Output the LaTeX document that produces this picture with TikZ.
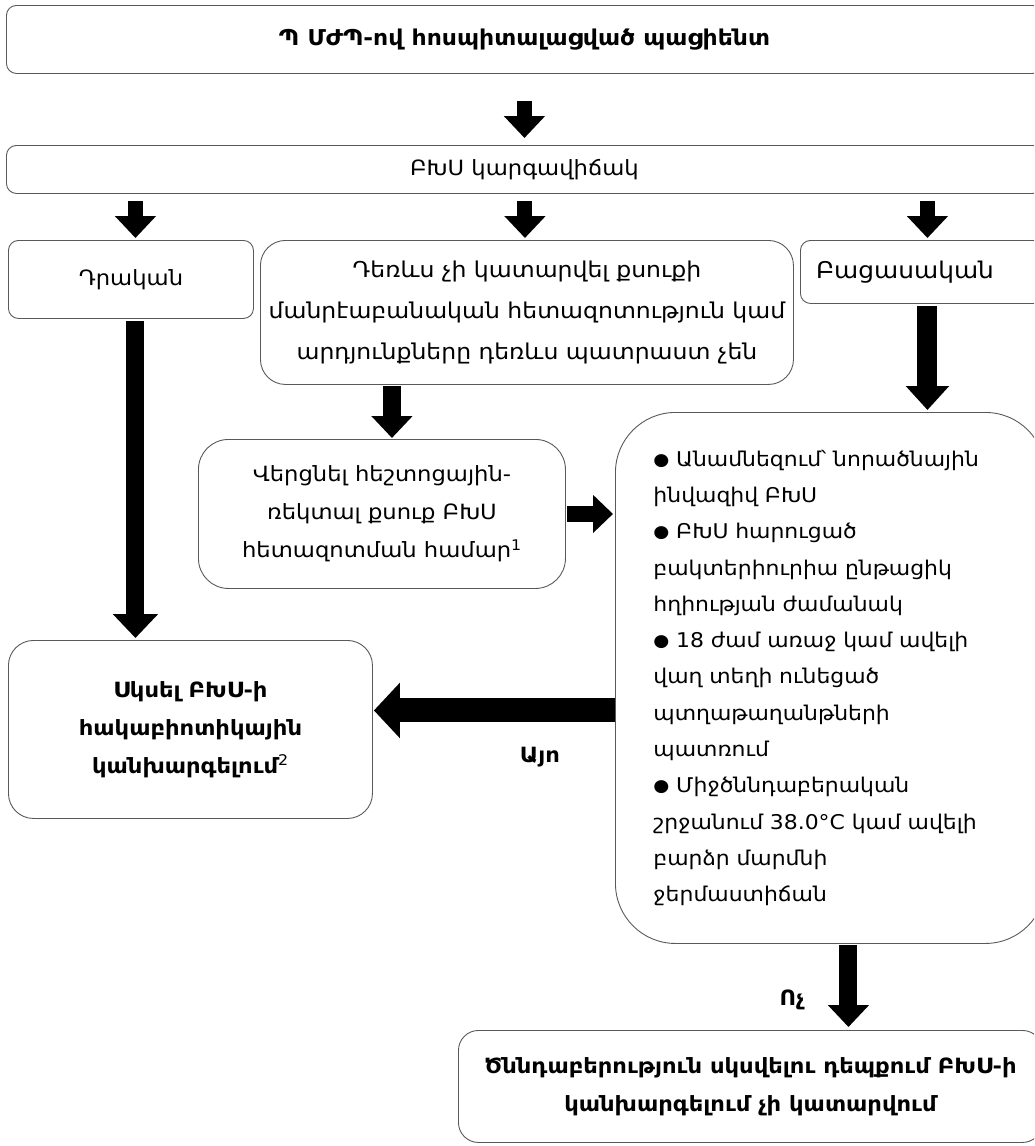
\documentclass[tikz,border=0pt]{standalone}
\usepackage{fontspec}
\setmainfont{DejaVu Sans}[FakeStretch=1.08]
\usetikzlibrary{arrows.meta}
\newcommand\fsz{\fontsize{21}{38}\selectfont}
\newcommand\fsbig{\fontsize{21.8}{38}\selectfont}
\newcommand\fsrisk{\fontsize{20.3}{36.3}\selectfont}
\newcommand\fspend{\fontsize{21.8}{41}\selectfont}
\newcommand\bul{{\fontsize{17}{0}\selectfont\raisebox{1pt}{●}}}
\begin{document}
\begin{tikzpicture}[x=1pt,y=-1pt,
  box/.style={draw=black!65, line width=0.9pt, rounded corners=10pt, anchor=north west, inner sep=0pt, align=center, font=\fsz},
  lbl/.style={font=\bfseries\fsz, inner sep=0pt},
  fatarrow/.style n args={3}{draw=black, line width=#1, -{Triangle[width=#2,length=#3]}}
]
\useasboundingbox (0,0) rectangle (1034,1146);
\clip (0,0) rectangle (1034,1146);

\node[box, minimum width=1036pt, minimum height=68pt, font=\bfseries\fsbig] (title) at (6,5) {Պ ՄԺՊ-ով հոսպիտալացված պացիենտ};
\node[box, minimum width=1036pt, minimum height=48pt] (status) at (6,145) {ԲԽՍ կարգավիճակ};
\node[box, minimum width=245pt, minimum height=78pt] (pos) at (8,240) {Դրական};
\node[box, rounded corners=25pt, minimum width=533pt, minimum height=144pt, font=\fspend] (pend) at (260,240) {\rule{0pt}{12pt}Դեռևս չի կատարվել քսուքի\\մանրէաբանական հետազոտություն կամ\\արդյունքները դեռևս պատրաստ չեն};
\node[box, minimum width=250pt, minimum height=63pt] (neg) at (800,240) {};
\node[font=\fontsize{23}{38}\selectfont, inner sep=0pt] (negtext) at (905,272) {Բացասական};
\node[box, rounded corners=30pt, minimum width=367pt, minimum height=149pt] (swab) at (198,439) {Վերցնել հեշտոցային-\\ռեկտալ քսուք ԲԽՍ\\հետազոտման համար\textsuperscript{1}};
\node[box, rounded corners=60pt, minimum width=430pt, minimum height=531pt, text width=354pt, align=left, font=\fsrisk] (risk) at (615,412) {\bul{} Անամնեզում՝ նորածնային\\ինվազիվ ԲԽՍ\\\bul{} ԲԽՍ հարուցած\\բակտերիուրիա ընթացիկ\\հղիության ժամանակ\\\bul{} 18 ժամ առաջ կամ ավելի\\վաղ տեղի ունեցած\\պտղաթաղանթների\\պատռում\\\bul{} Միջծննդաբերական\\շրջանում 38.0°C կամ ավելի\\բարձր մարմնի\\ջերմաստիճան};
\node[box, rounded corners=25pt, minimum width=364pt, minimum height=178pt, font=\bfseries\fsz] (start) at (8,640) {Սկսել ԲԽՍ-ի\\հակաբիոտիկային\\կանխարգելում{\mdseries\textsuperscript{2}}};
\node[box, rounded corners=20pt, minimum width=584pt, minimum height=112pt, font=\bfseries\fsz] (none) at (458,1030) {Ծննդաբերություն սկսվելու դեպքում ԲԽՍ-ի\\կանխարգելում չի կատարվում};
\node[lbl] (yes) at (540,757) {Այո};
\node[lbl] (no) at (792,1000) {Ոչ};

\draw[fatarrow={15pt}{40pt}{22pt}, shorten <=27pt, shorten >=7pt] (title.south) -- (status.north);
\draw[fatarrow={15pt}{40pt}{22pt}, shorten <=7pt, shorten >=2pt] ([xshift=4.5pt]status.south -| pos.north) -- ([xshift=4.5pt]pos.north);
\draw[fatarrow={15pt}{40pt}{22pt}, shorten <=7pt, shorten >=2pt] ([xshift=-2pt]status.south -| pend.north) -- ([xshift=-2pt]pend.north);
\draw[fatarrow={15pt}{40pt}{22pt}, shorten <=7pt, shorten >=2pt] ([xshift=2pt]status.south -| neg.north) -- ([xshift=2pt]neg.north);
\draw[fatarrow={18pt}{44pt}{24pt}, shorten <=2pt, shorten >=2pt] ([xshift=4.5pt]pos.south) -- ([xshift=4.5pt]pos.south |- start.north);
\draw[fatarrow={18pt}{40pt}{22pt}, shorten <=1pt, shorten >=1pt] ([xshift=10pt]swab.north |- pend.south) -- ([xshift=10pt]swab.north);
\draw[fatarrow={20pt}{42pt}{24pt}, shorten <=2pt, shorten >=2pt] ([xshift=2pt]neg.south) -- ([xshift=2pt]neg.south |- risk.north);
\draw[fatarrow={16pt}{37pt}{20pt}, shorten <=1pt, shorten >=2pt] (swab.east) -- (swab.east -| risk.west);
\draw[fatarrow={24pt}{54pt}{26pt}, shorten <=0pt, shorten >=1pt] ([yshift=19pt]risk.west |- start.east) -- ([yshift=19pt]start.east);
\draw[fatarrow={18pt}{40pt}{22pt}, shorten <=1pt, shorten >=3pt] ([xshift=18pt]risk.south) -- ([xshift=18pt]risk.south |- none.north);
\end{tikzpicture}
\end{document}
